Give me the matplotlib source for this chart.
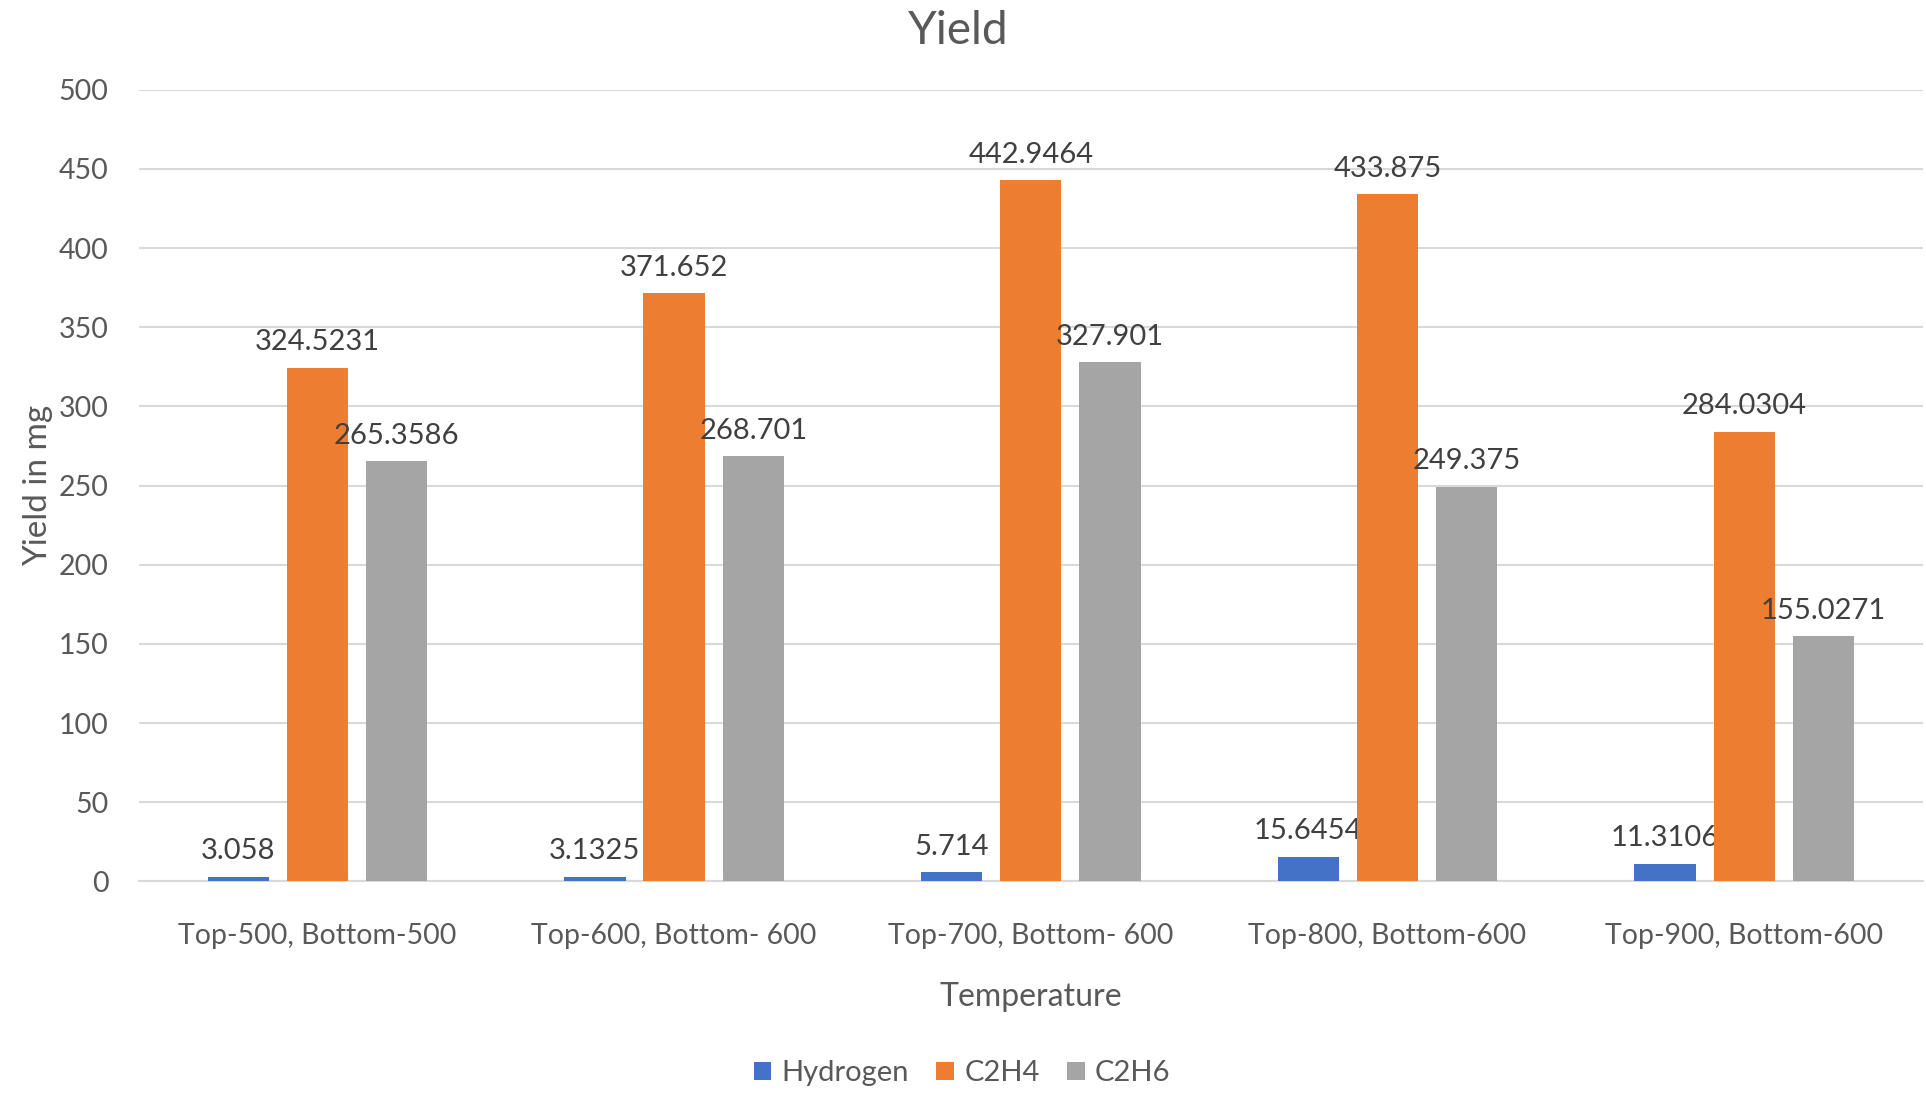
import matplotlib
matplotlib.use("Agg")
import matplotlib.pyplot as plt
import numpy as np

categories = ["Top-500, Bottom-500", "Top-600, Bottom- 600", "Top-700, Bottom- 600",
              "Top-800, Bottom-600", "Top-900, Bottom-600"]
hydrogen = [3.058, 3.1325, 5.714, 15.6454, 11.3106]
c2h4 = [324.5231, 371.652, 442.9464, 433.875, 284.0304]
c2h6 = [265.3586, 268.701, 327.901, 249.375, 155.0271]
hydrogen_lbl = ["3.058", "3.1325", "5.714", "15.6454", "11.3106"]
c2h4_lbl = ["324.5231", "371.652", "442.9464", "433.875", "284.0304"]
c2h6_lbl = ["265.3586", "268.701", "327.901", "249.375", "155.0271"]

plt.rcParams['font.family'] = ['Lato', 'DejaVu Sans']

fig = plt.figure(figsize=(19.26, 10.95), dpi=100)
ax = fig.add_axes([0.0722, 0.195, 0.926, 0.723])

x = np.arange(len(categories))
w = 0.172
off = 0.222
series = [("Hydrogen", hydrogen, hydrogen_lbl, "#4472C4", -off),
          ("C2H4", c2h4, c2h4_lbl, "#ED7D31", 0),
          ("C2H6", c2h6, c2h6_lbl, "#A5A5A5", off)]
handles = []
for name, vals, lbls, col, o in series:
    b = ax.bar(x + o, vals, w, color=col, label=name, zorder=3)
    handles.append(b)
    for xi, v, t in zip(x + o, vals, lbls):
        ax.annotate(t, (xi, v), xytext=(0, 9), textcoords="offset points",
                    ha="center", va="bottom", fontsize=21, color="#404040")

ax.set_xlim(-0.5, len(categories) - 0.5)
ax.set_ylim(0, 500)
ax.set_yticks(range(0, 501, 50))
ax.yaxis.grid(True, color="#d9d9d9", linewidth=1.5, zorder=0)
for s in ["top", "right", "left"]:
    ax.spines[s].set_visible(False)
ax.spines["bottom"].set_color("#d9d9d9")
ax.spines["bottom"].set_linewidth(1.5)
ax.tick_params(axis="both", length=0, labelsize=20.5, labelcolor="#595959")
ax.tick_params(axis="y", pad=22)
ax.tick_params(axis="x", pad=30)
ax.set_xticks(x)
ax.set_xticklabels(categories)

fig.text(0.4975, 0.972, "Yield", fontsize=33, color="#595959", ha="center", va="center")
ax.set_xlabel("Temperature", fontsize=23, color="#595959", labelpad=24)
ax.set_ylabel("Yield in mg", fontsize=24, color="#595959", labelpad=4)

fig.legend(handles=handles, loc="center", bbox_to_anchor=(0.4995, 0.020), ncol=3,
           frameon=False, fontsize=21, labelcolor="#595959", handlelength=0.6,
           handleheight=0.6, handletextpad=0.35, columnspacing=0.95)

fig.savefig("out.png")
